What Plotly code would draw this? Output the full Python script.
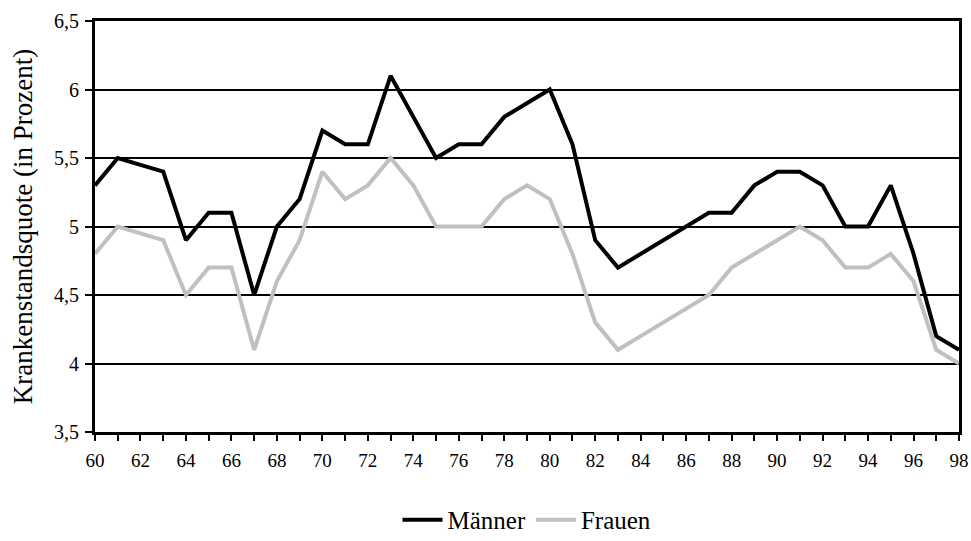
import plotly.graph_objects as go

years = list(range(60, 99))
maenner = [5.3, 5.5, 5.45, 5.4, 4.9, 5.1, 5.1, 4.5, 5.0, 5.2,
           5.7, 5.6, 5.6, 6.1, 5.8, 5.5, 5.6, 5.6, 5.8, 5.9,
           6.0, 5.6, 4.9, 4.7, 4.8, 4.9, 5.0, 5.1, 5.1, 5.3,
           5.4, 5.4, 5.3, 5.0, 5.0, 5.3, 4.8, 4.2, 4.1]
frauen = [4.8, 5.0, 4.95, 4.9, 4.5, 4.7, 4.7, 4.1, 4.6, 4.9,
          5.4, 5.2, 5.3, 5.5, 5.3, 5.0, 5.0, 5.0, 5.2, 5.3,
          5.2, 4.8, 4.3, 4.1, 4.2, 4.3, 4.4, 4.5, 4.7, 4.8,
          4.9, 5.0, 4.9, 4.7, 4.7, 4.8, 4.6, 4.1, 4.0]
y_tickvals = [3.5, 4, 4.5, 5, 5.5, 6, 6.5]
y_ticktext = ["3,5", "4", "4,5", "5", "5,5", "6", "6,5"]
x_tickvals = list(range(60, 99, 2))
x_ticktext = [str(v) for v in x_tickvals]

font_family = "Liberation Serif"

fig = go.Figure()
fig.add_trace(go.Scatter(x=years, y=maenner, mode="lines", name="Männer",
                         line=dict(color="black", width=4)))
fig.add_trace(go.Scatter(x=years, y=frauen, mode="lines", name="Frauen",
                         line=dict(color="#c0c0c0", width=4)))

fig.update_layout(
    width=971, height=541,
    margin=dict(l=95, r=12, t=21, b=109, autoexpand=False),
    paper_bgcolor="white", plot_bgcolor="white",
    font=dict(family=font_family, color="black", size=19),
    showlegend=True,
    legend=dict(orientation="h", x=0.5, xanchor="center", y=-0.214, yanchor="middle",
                font=dict(size=25, family=font_family), traceorder="normal",
                itemwidth=40),
)
fig.update_xaxes(
    range=[60, 98], tickmode="array", tickvals=x_tickvals, ticktext=x_ticktext,
    showline=True, linecolor="black", linewidth=3, mirror=True,
    ticks="outside", ticklen=6, tickwidth=2, tickcolor="black",
    minor=dict(dtick=1, tick0=60, ticks="outside", ticklen=6, tickwidth=2, tickcolor="black", showgrid=False),
    showgrid=False, zeroline=False, automargin=False,
    tickfont=dict(size=19, family=font_family),
    ticklabelstandoff=3,
)
fig.update_yaxes(
    range=[3.5, 6.5], tickmode="array", tickvals=y_tickvals, ticktext=y_ticktext,
    showline=True, linecolor="black", linewidth=3, mirror=True,
    ticks="outside", ticklen=7, tickwidth=2, tickcolor="black",
    showgrid=True, gridcolor="black", gridwidth=2, zeroline=False, automargin=False,
    tickfont=dict(size=20, family=font_family),
    ticklabelstandoff=2,
    title=dict(text="Krankenstandsquote (in Prozent)", font=dict(size=27, family=font_family), standoff=14),
)

fig.write_html("out.html", post_script="document.body.style.margin='0';",
               config={"displayModeBar": False})
